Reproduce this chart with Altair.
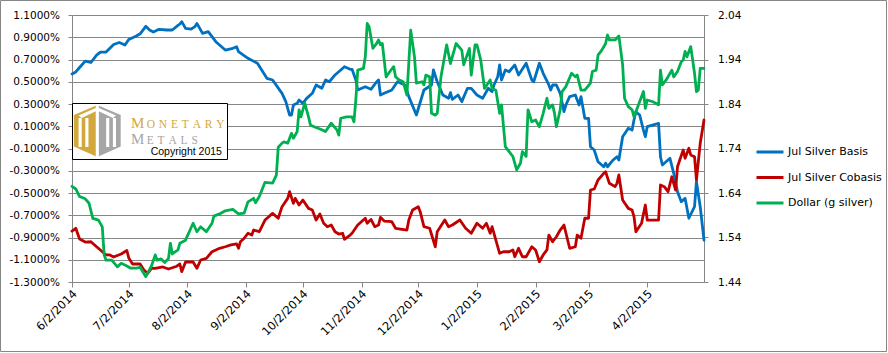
import altair as alt
import pandas as pd

START = "2014-06-02"

# (days after 6/2/2014, value in %)
basis = [(0,0.570),(2,0.588),(4,0.628),(7,0.686),(10,0.673),(13,0.740),(15,0.767),(18,0.767),(20,0.801),(22,0.835),(25,0.853),(28,0.830),(30,0.880),(34,0.911),(36,0.931),(39,0.998),(41,0.965),(43,0.947),(46,0.971),(50,0.965),(53,0.965),(56,1.006),(57,1.019),(58,1.040),(60,0.980),(63,0.974),(65,0.995),(66,1.025),(67,0.995),(69,0.935),(72,0.950),(76,0.860),(81,0.785),(85,0.801),(87,0.815),(88,0.770),(93,0.711),(98,0.666),(103,0.531),(106,0.516),(111,0.396),(113,0.321),(115,0.201),(116,0.201),(117,0.291),(119,0.306),(120,0.336),(122,0.306),(124,0.351),(127,0.396),(129,0.471),(132,0.441),(134,0.516),(136,0.500),(139,0.561),(144,0.635),(147,0.612),(148,0.612),(150,0.516),(151,0.426),(155,0.455),(158,0.432),(161,0.500),(162,0.516),(163,0.381),(165,0.396),(169,0.426),(172,0.500),(176,0.471),(178,0.366),(182,0.201),(186,0.426),(190,0.471),(191,0.606),(193,0.500),(196,0.381),(199,0.351),(200,0.402),(201,0.342),(204,0.381),(206,0.321),(209,0.441),(211,0.441),(214,0.381),(217,0.351),(220,0.441),(222,0.411),(223,0.471),(225,0.545),(226,0.651),(227,0.516),(229,0.606),(231,0.590),(234,0.651),(236,0.561),(240,0.666),(243,0.516),(244,0.500),(247,0.666),(249,0.576),(252,0.471),(253,0.426),(254,0.471),(256,0.471),(258,0.396),(260,0.231),(261,0.291),(263,0.366),(266,0.381),(268,0.291),(269,0.366),(271,0.171),(273,0.171),(274,-0.084),(276,-0.114),(278,-0.219),(281,-0.264),(282,-0.233),(283,-0.264),(286,-0.203),(288,-0.174),(289,-0.203),(291,0.006),(294,0.082),(296,0.066),(297,0.156),(298,0.231),(300,0.201),(302,0.066),(303,0.006),(304,0.096),(310,0.126),(311,-0.174),(312,-0.248),(316,-0.188),(318,-0.323),(320,-0.488),(322,-0.578),(324,-0.548),(326,-0.727),(329,-0.623),(330,-0.398),(332,-0.623),(334,-0.923)]

cobasis = [(0,-0.842),(2,-0.817),(4,-0.914),(7,-0.941),(10,-0.938),(13,-0.983),(15,-1.012),(18,-1.057),(20,-1.057),(22,-1.075),(26,-1.048),(29,-1.017),(30,-1.084),(32,-1.138),(36,-1.138),(38,-1.192),(40,-1.222),(42,-1.177),(44,-1.177),(48,-1.165),(51,-1.183),(55,-1.161),(57,-1.138),(58,-1.207),(60,-1.120),(64,-1.120),(66,-1.177),(68,-1.102),(71,-1.087),(74,-1.028),(78,-0.997),(81,-0.983),(84,-0.967),(87,-0.958),(88,-0.997),(89,-0.938),(91,-0.907),(93,-0.862),(95,-0.878),(96,-0.833),(99,-0.848),(102,-0.743),(106,-0.683),(109,-0.727),(111,-0.623),(114,-0.548),(115,-0.488),(117,-0.593),(118,-0.548),(120,-0.608),(122,-0.563),(125,-0.638),(127,-0.653),(129,-0.743),(131,-0.689),(133,-0.772),(135,-0.803),(137,-0.788),(139,-0.848),(141,-0.869),(143,-0.862),(144,-0.916),(147,-0.878),(148,-0.862),(151,-0.788),(155,-0.727),(156,-0.772),(158,-0.737),(160,-0.803),(162,-0.788),(163,-0.719),(165,-0.752),(169,-0.758),(171,-0.817),(177,-0.833),(178,-0.743),(180,-0.653),(183,-0.623),(184,-0.668),(186,-0.803),(189,-0.817),(192,-0.983),(193,-0.848),(197,-0.743),(199,-0.803),(201,-0.788),(205,-0.743),(208,-0.817),(211,-0.862),(214,-0.772),(217,-0.817),(219,-0.772),(221,-0.862),(222,-0.803),(224,-0.923),(226,-1.042),(228,-1.028),(231,-1.028),(233,-1.012),(234,-1.073),(236,-0.997),(238,-1.073),(240,-1.073),(243,-0.983),(245,-1.012),(247,-1.118),(249,-1.057),(251,-1.012),(252,-0.878),(254,-0.938),(256,-0.893),(258,-0.833),(260,-0.788),(263,-0.997),(266,-0.983),(267,-0.878),(269,-0.907),(271,-0.727),(273,-0.727),(274,-0.473),(276,-0.464),(278,-0.383),(281,-0.323),(282,-0.309),(284,-0.413),(287,-0.443),(288,-0.413),(289,-0.338),(291,-0.563),(294,-0.638),(296,-0.653),(297,-0.713),(298,-0.848),(301,-0.772),(303,-0.608),(304,-0.743),(310,-0.743),(311,-0.428),(313,-0.443),(315,-0.488),(317,-0.354),(319,-0.473),(320,-0.264),(323,-0.114),(324,-0.188),(326,-0.098),(327,-0.158),(329,-0.174),(330,-0.383),(332,-0.053),(334,0.156)]

dollar = [(0,1.655),(2,1.649),(4,1.632),(7,1.627),(9,1.617),(11,1.583),(14,1.579),(16,1.564),(17,1.501),(18,1.489),(21,1.489),(24,1.474),(26,1.482),(29,1.476),(31,1.471),(34,1.471),(36,1.473),(39,1.452),(42,1.476),(44,1.501),(45,1.489),(47,1.492),(49,1.484),(51,1.493),(52,1.527),(53,1.503),(56,1.512),(57,1.527),(60,1.534),(64,1.572),(66,1.553),(68,1.564),(71,1.553),(74,1.572),(75,1.588),(78,1.593),(81,1.600),(85,1.603),(88,1.593),(91,1.595),(93,1.620),(96,1.628),(97,1.618),(99,1.632),(102,1.664),(106,1.662),(108,1.680),(109,1.743),(111,1.752),(112,1.755),(114,1.752),(116,1.774),(117,1.763),(119,1.778),(120,1.827),(121,1.811),(123,1.842),(125,1.811),(126,1.793),(128,1.789),(132,1.782),(134,1.778),(137,1.797),(140,1.782),(141,1.770),(142,1.808),(145,1.811),(148,1.811),(149,1.800),(150,1.849),(151,1.916),(154,1.920),(155,1.946),(156,2.021),(157,2.014),(159,1.965),(161,1.976),(162,1.984),(163,1.973),(164,1.976),(166,1.901),(168,1.913),(170,1.924),(171,1.901),(173,1.894),(175,1.890),(177,1.860),(179,2.006),(181,1.946),(182,1.887),(185,1.890),(186,1.883),(187,1.905),(189,1.901),(190,1.819),(192,1.815),(193,1.819),(195,1.901),(198,1.973),(200,1.931),(203,1.976),(206,1.961),(207,1.928),(210,1.965),(211,1.905),(213,1.973),(214,1.973),(216,1.939),(218,1.875),(221,1.894),(222,1.875),(224,1.871),(226,1.819),(227,1.838),(229,1.744),(231,1.733),(233,1.722),(235,1.692),(237,1.707),(238,1.733),(240,1.722),(241,1.827),(243,1.800),(245,1.804),(247,1.789),(249,1.819),(251,1.853),(252,1.830),(254,1.838),(255,1.819),(256,1.789),(258,1.827),(259,1.868),(261,1.879),(264,1.909),(266,1.901),(267,1.905),(269,1.871),(271,1.871),(274,1.887),(275,1.913),(277,1.916),(278,1.950),(280,1.961),(282,1.976),(283,1.995),(284,1.984),(287,1.984),(289,1.993),(290,1.961),(291,1.928),(292,1.853),(294,1.834),(296,1.827),(297,1.811),(299,1.834),(302,1.868),(303,1.830),(304,1.849),(307,1.845),(310,1.838),(311,1.916),(312,1.883),(314,1.894),(317,1.916),(318,1.901),(320,1.913),(322,1.935),(323,1.939),(324,1.958),(325,1.946),(327,1.969),(329,1.909),(330,1.868),(331,1.871),(332,1.920),(334,1.920)]

series_names = ["Jul Silver Basis", "Jul Silver Cobasis", "Dollar (g silver)"]
series_colors = ["#0070C0", "#C00000", "#00B050"]

left_ticks = [-1.3, -1.1, -0.9, -0.7, -0.5, -0.3, -0.1, 0.1, 0.3, 0.5, 0.7, 0.9, 1.1]
right_ticks = [1.44, 1.54, 1.64, 1.74, 1.84, 1.94, 2.04]
x_tick_months = [(2014, 6), (2014, 7), (2014, 8), (2014, 9), (2014, 10), (2014, 11),
                 (2014, 12), (2015, 1), (2015, 2), (2015, 3), (2015, 4)]
x_domain = [(2014, 6, 2), (2015, 5, 2)]


def frame(pairs, name):
    df = pd.DataFrame(pairs, columns=["day", "value"])
    df["date"] = (pd.Timestamp(START) + pd.to_timedelta(df["day"], unit="D")).dt.strftime("%Y-%m-%dT00:00:00")
    df["series"] = name
    return df


df_basis = frame(basis, series_names[0])
df_cobasis = frame(cobasis, series_names[1])
df_dollar = frame(dollar, series_names[2])

GRAY = "#868686"
FONT = "DejaVu Sans"

x_enc = alt.X(
    "date:T", title=None,
    scale=alt.Scale(domain=[alt.DateTime(year=y, month=m, date=d) for (y, m, d) in x_domain], nice=False),
    axis=alt.Axis(
        values=[alt.DateTime(year=y, month=m, date=2) for (y, m) in x_tick_months],
        labelExpr="timeFormat(datum.value, '%-m/%-d/%Y')",
        labelAngle=-45, labelAlign="right", labelBaseline="middle",
        labelOverlap=False, labelFlush=False, labelBound=False,
        labelFont=FONT, labelFontSize=11.5, labelColor="#000", labelPadding=5, labelOffset=3,
        tickSize=5, tickColor=GRAY, domainColor=GRAY, grid=False,
    ),
)

color_enc = alt.Color(
    "series:N",
    scale=alt.Scale(domain=series_names, range=series_colors),
    legend=alt.Legend(title=None),
)

left_axis = alt.Axis(
    values=left_ticks, orient="left",
    labelExpr="(datum.value < 0 ? '-' : '') + format(abs(datum.value), '.4f') + '%'",
    labelFont=FONT, labelFontSize=10.5, labelColor="#000", labelPadding=8.5,
    tickSize=4, tickColor=GRAY, domainColor=GRAY,
    grid=True, gridColor=GRAY, gridWidth=1,
)
left_scale = alt.Scale(domain=[-1.3, 1.1], nice=False, zero=False)

right_axis = alt.Axis(
    values=right_ticks, orient="right", format=".2f",
    labelFont=FONT, labelFontSize=10.5, labelColor="#000", labelPadding=9.5,
    tickSize=4, tickColor=GRAY, domainColor=GRAY, grid=False,
)
right_scale = alt.Scale(domain=[1.44, 2.04], nice=False, zero=False)

line_kw = dict(strokeWidth=2.8, strokeJoin="round", strokeCap="round")

basis_line = alt.Chart(df_basis).mark_line(**line_kw).encode(
    x=x_enc, y=alt.Y("value:Q", title=None, scale=left_scale, axis=left_axis), color=color_enc)
cobasis_line = alt.Chart(df_cobasis).mark_line(**line_kw).encode(
    x=x_enc, y=alt.Y("value:Q", title=None, scale=left_scale, axis=left_axis), color=color_enc)
dollar_line = alt.Chart(df_dollar).mark_line(**line_kw).encode(
    x=x_enc, y=alt.Y("value:Q", title=None, scale=right_scale, axis=right_axis), color=color_enc)

one = pd.DataFrame({"k": [0]})

border = alt.Chart(one).mark_rect(fillOpacity=0, stroke=GRAY, strokeWidth=1).encode(
    x=alt.value(-71.5), x2=alt.value(814.5), y=alt.value(-14.5), y2=alt.value(336.5))

logo_box = alt.Chart(one).mark_rect(fill="white", stroke="black", strokeWidth=1).encode(
    x=alt.value(0.5), x2=alt.value(155.5), y=alt.value(88.5), y2=alt.value(144.5))

GOLD = "#D2A83C"
LOGO_GRAY = "#A6A6A6"
ICON_SIZE = 2704
gold_half = "M0,-1L-0.9,-0.62L-0.9,0.6L0,1Z"
gray_half = "M0,-1L0.9,-0.62L0.9,0.6L0,1Z"
white_bars = ("M-0.72,-0.5H-0.6V0.62H-0.72Z M-0.46,-0.5H-0.34V0.62H-0.46Z "
              "M-0.06,-1H0.06V1H-0.06Z M0.34,-0.5H0.46V0.62H0.34Z M0.6,-0.5H0.72V0.62H0.6Z "
              "M-0.72,-0.6L-0.06,-0.88V-0.76L-0.6,-0.5Z M0.72,-0.6L0.06,-0.88V-0.76L0.6,-0.5Z")


def icon(path, colour):
    return alt.Chart(one).mark_point(shape=path, filled=True, fill=colour, size=ICON_SIZE,
                                     opacity=1, strokeWidth=0).encode(
        x=alt.value(25.3), y=alt.value(116))


def label(txt, x, y, size, colour, font):
    return alt.Chart(one).mark_text(align="left", baseline="alphabetic", font=font,
                                    fontSize=size, color=colour).encode(
        x=alt.value(x), y=alt.value(y), text=alt.value(txt))


SP = "\u2004"
logo = [
    logo_box,
    icon(gold_half, GOLD), icon(gray_half, LOGO_GRAY), icon(white_bars, "white"),
    label("M", 59, 113.3, 15, GOLD, "Liberation Serif"),
    label(SP.join("ONETARY"), 74.7, 113.3, 11.5, GOLD, "Liberation Serif"),
    label("M", 59, 129, 15, LOGO_GRAY, "Liberation Serif"),
    label(SP.join("ETALS"), 74.7, 129, 11.5, LOGO_GRAY, "Liberation Serif"),
    label("Copyright 2015", 78.7, 140.3, 10.5, "black", "Liberation Sans"),
]

left_layer = alt.layer(basis_line, cobasis_line)
chart = alt.layer(border, left_layer, dollar_line, *logo).resolve_scale(y="independent").properties(
    width=632, height=267,
    autosize=alt.AutoSizeParams(type="none"),
    padding={"left": 72, "top": 15, "right": 184, "bottom": 71},
    background="white",
).configure_view(stroke=None).configure_legend(
    orient="none", legendX=683, legendY=122, padding=0,
    symbolType="stroke", symbolSize=729, symbolStrokeWidth=3,
    labelFont=FONT, labelFontSize=11, labelColor="#000", labelOffset=3,
    rowPadding=4.5,
)

chart.save("out.html", embed_options={"renderer": "svg", "actions": False})
